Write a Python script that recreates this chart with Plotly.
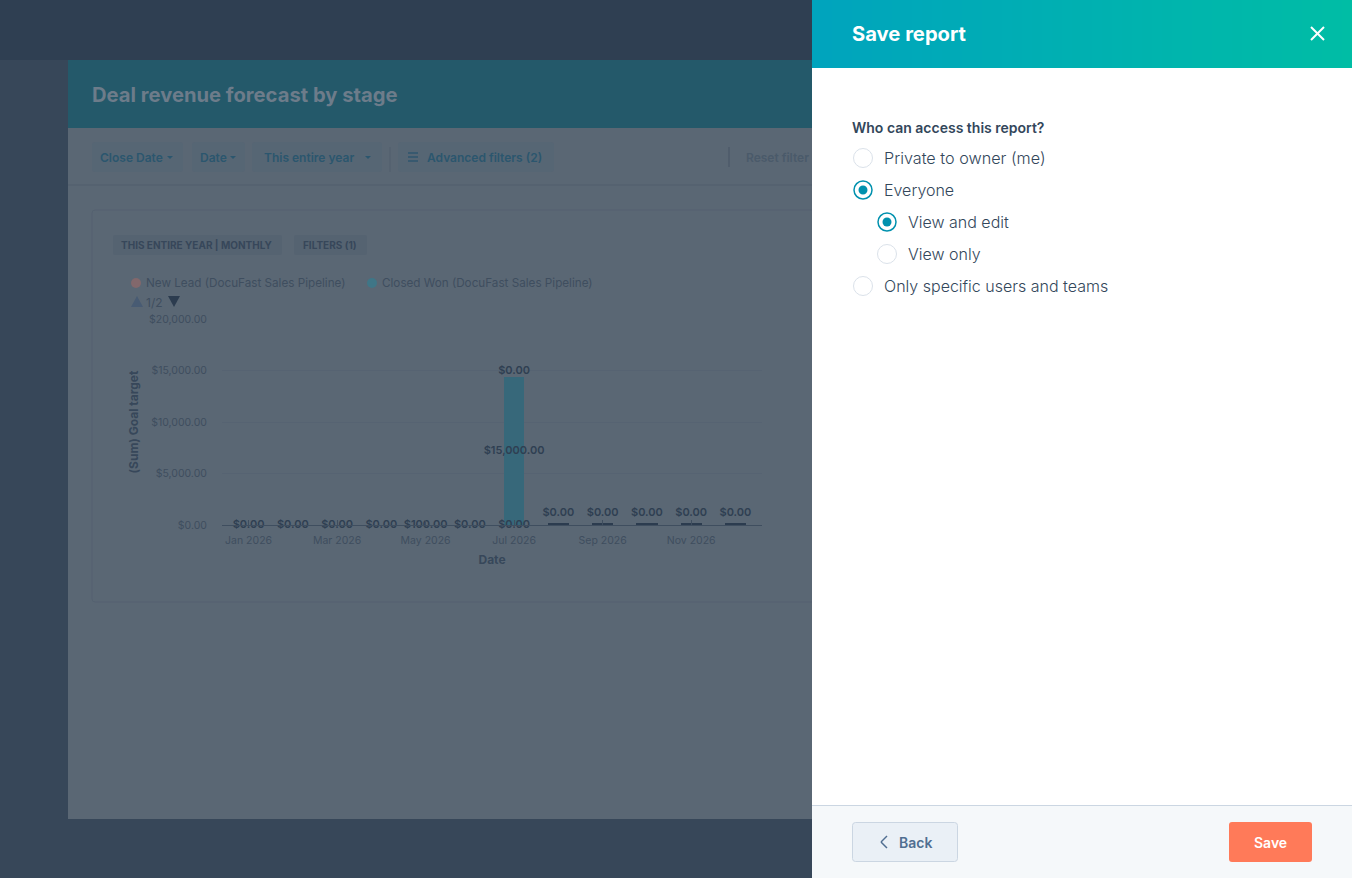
import plotly.graph_objects as go

W = 1352
H = 878
FONT = "Inter"

months = ["Jan 2026", "Feb 2026", "Mar 2026", "Apr 2026", "May 2026", "Jun 2026",
          "Jul 2026", "Aug 2026", "Sep 2026", "Oct 2026", "Nov 2026", "Dec 2026"]
tick_months = ["Jan 2026", "Mar 2026", "May 2026", "Jul 2026", "Sep 2026", "Nov 2026"]
won_values = [0, 0, 0, 0, 0, 0, 14400, 0, 0, 0, 0, 0]
other_values = [0, 0, 0, 0, 0, 0, 0, 170, 170, 170, 170, 170]
base_labels = ["$0.00", "$0.00", "$0.00", "$0.00", "$100.00", "$0.00", "$0.00"]
top_labels = ["$0.00", "$0.00", "$0.00", "$0.00", "$0.00"]
jul_top_label = "$0.00"
mid_label = "$15,000.00"
y_ticks = [0, 5000, 10000, 15000, 20000]
y_tick_labels = ["$0.00", "$5,000.00", "$10,000.00", "$15,000.00", "$20,000.00"]

LABEL_GAP = 400  # lifts the small bar labels a bit, in axis units


def px(x):
    return x / W


def py(y):
    return 1 - y / H


def rect(x0, y0, x1, y1, fill, line=None, layer="below"):
    return dict(type="rect", xref="paper", yref="paper", x0=px(x0), x1=px(x1), y0=py(y0), y1=py(y1),
                fillcolor=fill, line=dict(color=line or fill, width=1 if line else 0), layer=layer)


def rounded(x0, y0, x1, y1, fill, line=None, r=3, layer="below"):
    p = (f"M{px(x0 + r)},{py(y0)} L{px(x1 - r)},{py(y0)} Q{px(x1)},{py(y0)} {px(x1)},{py(y0 + r)} "
         f"L{px(x1)},{py(y1 - r)} Q{px(x1)},{py(y1)} {px(x1 - r)},{py(y1)} "
         f"L{px(x0 + r)},{py(y1)} Q{px(x0)},{py(y1)} {px(x0)},{py(y1 - r)} "
         f"L{px(x0)},{py(y0 + r)} Q{px(x0)},{py(y0)} {px(x0 + r)},{py(y0)} Z")
    return dict(type="path", xref="paper", yref="paper", path=p, fillcolor=fill,
                line=dict(color=line or fill, width=1 if line else 0), layer=layer)


def line(x0, y0, x1, y1, color, width=1, layer="below"):
    return dict(type="line", xref="paper", yref="paper", x0=px(x0), x1=px(x1), y0=py(y0), y1=py(y1),
                line=dict(color=color, width=width), layer=layer)


def circle(cx, cy, r, fill, edge=None, width=1, layer="below"):
    return dict(type="circle", xref="paper", yref="paper", x0=px(cx - r), x1=px(cx + r),
                y0=py(cy - r), y1=py(cy + r), fillcolor=fill,
                line=dict(color=edge or fill, width=width if edge else 0), layer=layer)


def poly(points, fill, layer="below"):
    p = "M" + " L".join(f"{px(x)},{py(y)}" for x, y in points) + " Z"
    return dict(type="path", xref="paper", yref="paper", path=p, fillcolor=fill,
                line=dict(width=0), layer=layer)


def label(text, x, y, size, color, weight=400, anchor="left"):
    return dict(text=text, xref="paper", yref="paper", x=px(x), y=py(y), xanchor=anchor, yanchor="middle",
                showarrow=False, borderpad=0, font=dict(family=FONT, size=size, color=color, weight=weight))


shapes = [
    rect(0, 0, W, H, "#374759"),
    rect(0, 0, 812, 60, "#2f3f52"),
    rect(68, 60, 812, 819, "#5a6774"),
    rect(68, 60, 812, 128, "#24596a"),
    line(68, 185, 812, 185, "#505e6c"),
    line(729, 147, 729, 167, "#465565"),
    line(390, 147, 390, 172, "#505e6c"),
    rounded(92, 142, 183, 172, "#566674"),
    rounded(192, 142, 245, 172, "#566674"),
    rounded(252, 142, 382, 172, "#566674"),
    rounded(398, 142, 554, 172, "#566674"),
    rounded(92, 210, 830, 602, "#5a6774", "#546170"),
    rounded(113, 235, 282, 255, "#556371", r=2),
    rounded(294, 235, 367, 255, "#556371", r=2),
    circle(136, 283, 5, "#82686c"),
    circle(372, 283, 5, "#3f7687"),
    poly([(131, 307), (143, 307), (137, 296)], "#485b73"),
    poly([(168, 296), (180, 296), (174, 307)], "#2c3c4f"),
    line(408, 153, 418, 153, "#2f566e", 1.5),
    line(408, 157, 418, 157, "#2f566e", 1.5),
    line(408, 161, 418, 161, "#2f566e", 1.5),
]
for ax in [170, 233, 368]:
    shapes.append(poly([(ax - 3, 156), (ax + 3, 156), (ax, 159)], "#2b566e"))

# panel on top of the dimmed page
shapes.append(rect(812, 0, W, H, "#ffffff", layer="above"))
start = (0, 164, 189)
end = (0, 189, 165)
step = 10
for i in range(0, W - 812, step):
    t = i / (W - 812)
    c = [round(a + (b - a) * t) for a, b in zip(start, end)]
    shapes.append(rect(812 + i, 0, 812 + i + step, 68, f"rgb({c[0]},{c[1]},{c[2]})", layer="above"))
shapes += [
    line(1311, 27, 1324, 40, "#ffffff", 2, "above"),
    line(1324, 27, 1311, 40, "#ffffff", 2, "above"),
    rect(812, 805, W, H, "#f5f8fa", layer="above"),
    line(812, 805.5, W, 805.5, "#cbd6e2", 1, "above"),
    rounded(852.5, 822.5, 957.5, 861.5, "#eaf0f6", "#cbd6e2", layer="above"),
    rounded(1229, 822, 1312, 862, "#ff7a59", layer="above"),
    line(887, 836, 881, 842, "#506e91", 1.5, "above"),
    line(881, 842, 887, 848, "#506e91", 1.5, "above"),
]
for cx, cy, on in [(863, 158, False), (863, 190, True), (887, 222, True), (887, 254, False), (863, 286, False)]:
    if on:
        shapes.append(circle(cx, cy, 9, "#ffffff", "#0091ae", 1.5, "above"))
        shapes.append(circle(cx, cy, 4.5, "#0091ae", layer="above"))
    else:
        shapes.append(circle(cx, cy, 9.5, "#ffffff", "#dbe2ea", 1, "above"))

annotations = [
    label("Deal revenue forecast by stage", 91, 94, 20.2, "#6d7c8a", 700),
    label("Close Date", 99, 157, 12, "#2b566e", 600),
    label("Date", 199, 157, 12, "#2b566e", 600),
    label("This entire year", 263, 157, 12, "#2b566e", 600),
    label("Advanced filters (2)", 426, 157, 12, "#2b566e", 600),
    label("Reset filter", 745, 157, 12, "#4a5a6a", 600),
    label("THIS ENTIRE YEAR | MONTHLY", 120, 245, 10, "#37475a", 700),
    label("FILTERS (1)", 302, 245, 10, "#37475a", 700),
    label("New Lead (DocuFast Sales Pipeline)", 145, 283, 11.7, "#3f4e5f"),
    label("Closed Won (DocuFast Sales Pipeline)", 381, 283, 11.7, "#3f4e5f"),
    label("1/2", 145, 302, 12, "#3f4e5f"),
    label("Save report", 851, 34, 20.2, "#ffffff", 700),
    label("Who can access this report?", 851, 127, 14, "#33475b", 600),
    label("Private to owner (me)", 883, 158, 16.2, "#33475b", 300),
    label("Everyone", 883, 190, 16, "#33475b", 300),
    label("View and edit", 907, 222, 16, "#33475b", 300),
    label("View only", 907, 254, 16, "#33475b", 300),
    label("Only specific users and teams", 883, 286, 16, "#33475b", 300),
    label("Back", 915, 842, 14, "#506e91", 600, "center"),
    label("Save", 1270, 842, 14, "#ffffff", 600, "center"),
]

fig = go.Figure()
fig.add_trace(go.Bar(x=months, y=won_values, marker=dict(color="#37687a", line=dict(width=0)),
                     width=0.45, name="Closed Won (DocuFast Sales Pipeline)"))
fig.add_trace(go.Bar(x=months, y=other_values, marker=dict(color="#2c3c4f", line=dict(width=0)),
                     width=0.48, name="Other"))

label_font = dict(family=FONT, size=11, color="#2f3f52", weight=600)
fig.add_trace(go.Scatter(x=months[:7], y=[0] * 7, mode="text", text=base_labels,
                         textposition="middle center", textfont=label_font, cliponaxis=False))
fig.add_trace(go.Scatter(x=[months[6]], y=[won_values[6] / 2], mode="text", text=[mid_label],
                         textposition="middle center", textfont=label_font, cliponaxis=False))
fig.add_trace(go.Scatter(x=[months[6]], y=[won_values[6]], mode="text", text=[jul_top_label],
                         textposition="top center", textfont=label_font, cliponaxis=False))
fig.add_trace(go.Scatter(x=months[7:], y=[v + LABEL_GAP for v in other_values[7:]], mode="text",
                         text=top_labels,
                         textposition="top center", textfont=label_font, cliponaxis=False))

fig.update_layout(
    width=W,
    height=H,
    margin=dict(l=0, r=0, t=0, b=0, autoexpand=False),
    autosize=False,
    paper_bgcolor="#374759",
    plot_bgcolor="rgba(0,0,0,0)",
    barmode="stack",
    showlegend=False,
    shapes=shapes,
    annotations=annotations,
    font=dict(family=FONT),
    xaxis=dict(
        domain=[px(222), px(762)],
        type="category",
        categoryorder="array",
        categoryarray=months,
        range=[-0.6, 11.6],
        tickmode="array",
        tickvals=tick_months,
        ticktext=tick_months,
        ticks="inside",
        ticklen=5,
        tickcolor="#3f4e5f",
        tickangle=0,
        ticklabelstandoff=5,
        tickfont=dict(family=FONT, size=10.5, color="#3f4e5f"),
        showline=True,
        linecolor="#3f4e5f",
        showgrid=False,
        zeroline=False,
        title=dict(text="Date", standoff=10, font=dict(family=FONT, size=12, color="#37475a", weight=700)),
    ),
    yaxis=dict(
        domain=[py(525), py(319)],
        range=[0, 20000],
        tickmode="array",
        tickvals=y_ticks,
        ticktext=y_tick_labels,
        ticks="outside",
        ticklen=12,
        tickcolor="rgba(0,0,0,0)",
        tickfont=dict(family=FONT, size=10.5, color="#3f4e5f"),
        showgrid=True,
        gridcolor="#566372",
        zeroline=False,
        title=dict(text="(Sum) Goal target", standoff=7, font=dict(family=FONT, size=12, color="#37475a", weight=700)),
    ),
)

fig.write_html("out.html", config={"displayModeBar": False}, post_script="document.body.style.margin='0';")
